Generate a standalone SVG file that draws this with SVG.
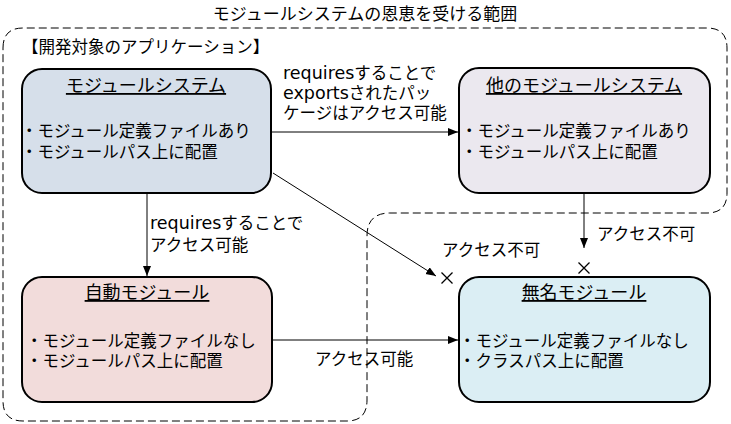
<svg xmlns="http://www.w3.org/2000/svg" width="731" height="424" viewBox="0 0 731 424">
<style>
text{font-family:"Noto Sans CJK JP","Noto Sans",sans-serif;fill:#000}
.t{font-size:18px;text-anchor:middle;text-decoration:underline}
.b{font-size:16.5px}
.l{font-size:16.5px}
.lat{font-family:"DejaVu Sans",sans-serif;font-size:17.5px}
.box{stroke:#000;stroke-width:2}
.ln{stroke:#000;stroke-width:1;fill:none}
.x{stroke:#000;stroke-width:1.3}
</style>
<defs>
<marker id="ah" markerUnits="userSpaceOnUse" markerWidth="11" markerHeight="9" refX="10" refY="4" orient="auto">
<path d="M0,0 L10,4 L0,8 Z" fill="#000"/>
</marker>
</defs>
<text x="365" y="20" style="font-size:17px;text-anchor:middle">モジュールシステムの恩恵を受ける範囲</text>
<path d="M3,48 Q3,28 23,28 H707 Q727,28 727,48 V193 Q727,213 707,213 H390 Q367,213 367,236 V400 Q367,421 347,421 H23 Q3,421 3,401 Z" fill="none" stroke="#000" stroke-width="1" stroke-dasharray="8,4"/>
<text x="22" y="53" class="l">【開発対象のアプリケーション】</text>
<g id="connectors">
<line class="ln" x1="271" y1="132" x2="458" y2="132" marker-end="url(#ah)"/>
<line class="ln" x1="147" y1="193" x2="147" y2="276" marker-end="url(#ah)"/>
<line class="ln" x1="273" y1="173" x2="436" y2="276" marker-end="url(#ah)"/>
<line class="ln" x1="584" y1="193" x2="584" y2="248" marker-end="url(#ah)"/>
<line class="ln" x1="272" y1="340" x2="458" y2="340" marker-end="url(#ah)"/>
<path class="x" d="M441.5,272.5 L452.5,283.5 M452.5,272.5 L441.5,283.5"/>
<path class="x" d="M578.5,262.5 L589.5,273.5 M589.5,262.5 L578.5,273.5"/>
<text x="283" y="79" class="l"><tspan class="lat">requires</tspan>することで</text>
<text x="283" y="99" class="l"><tspan class="lat">exports</tspan>されたパッ</text>
<text x="283" y="119" class="l">ケージはアクセス可能</text>
<text x="150" y="229" class="l"><tspan class="lat">requires</tspan>することで</text>
<text x="150" y="251" class="l">アクセス可能</text>
<text x="442" y="256" class="l">アクセス不可</text>
<text x="597" y="240" class="l">アクセス不可</text>
<text x="315" y="365" class="l">アクセス可能</text>
</g>
<g id="node-module-system">
<rect class="box" x="22" y="69" width="249" height="124" rx="20" fill="#d6dfea"/>
<text x="146" y="92" class="t">モジュールシステム</text>
<text x="21" y="137" class="b">・モジュール定義ファイルあり</text>
<text x="21" y="158" class="b">・モジュールパス上に配置</text>
</g>
<g id="node-other-module-system">
<rect class="box" x="459" y="68" width="251" height="125" rx="20" fill="#ebe8ef"/>
<text x="584" y="92" class="t">他のモジュールシステム</text>
<text x="461" y="137" class="b">・モジュール定義ファイルあり</text>
<text x="461" y="158" class="b">・モジュールパス上に配置</text>
</g>
<g id="node-automatic-module">
<rect class="box" x="22" y="277" width="250" height="125" rx="20" fill="#f2dcdb"/>
<text x="147" y="299" class="t">自動モジュール</text>
<text x="26" y="347" class="b">・モジュール定義ファイルなし</text>
<text x="26" y="367" class="b">・モジュールパス上に配置</text>
</g>
<g id="node-unnamed-module">
<rect class="box" x="459" y="277" width="251" height="125" rx="20" fill="#dbeef4"/>
<text x="584" y="299" class="t">無名モジュール</text>
<text x="459" y="347" class="b">・モジュール定義ファイルなし</text>
<text x="459" y="367" class="b">・クラスパス上に配置</text>
</g>
</svg>
